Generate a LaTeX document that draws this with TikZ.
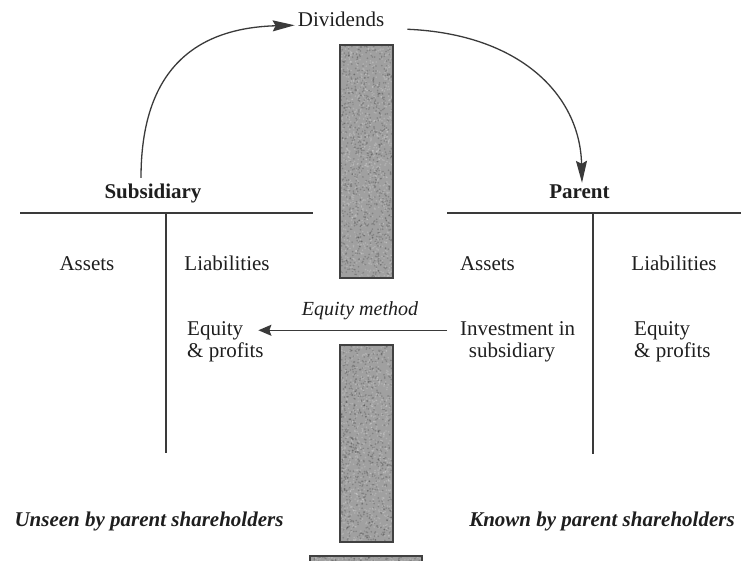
\documentclass[tikz,border=0pt]{standalone}
\usepackage{fontspec}
\setmainfont{Liberation Serif}
\usetikzlibrary{arrows.meta}
\definecolor{ink}{HTML}{1E1E1E}
\definecolor{rulecol}{HTML}{3A3A3A}
\definecolor{barfill}{HTML}{A0A0A0}
\definecolor{baredge}{HTML}{414141}
\begin{document}
\begin{tikzpicture}[x=1pt,y=-1pt,
  lbl/.style={inner sep=0pt, text=ink, font=\fontsize{21}{22}\selectfont,
              text height=14pt, text depth=4.5pt},
  ttl/.style={lbl, font=\fontsize{21}{22}\selectfont\bfseries},
  note/.style={lbl, font=\fontsize{21}{22}\selectfont\bfseries\itshape},
  meth/.style={lbl, font=\fontsize{20}{22}\selectfont\itshape},
  tline/.style={draw=rulecol, line width=1.6pt},
  barbody/.style={fill=barfill},
  baredgeline/.style={draw=baredge, line width=1.8pt},
  flow/.style={draw=rulecol, line width=1.3pt,
               -{Stealth[length=22pt,width=11pt,inset=3pt]}},
  eqarrow/.style={draw=rulecol, line width=1.3pt,
                  -{Stealth[length=13pt,width=11pt,inset=2pt]}}
]
\useasboundingbox (0,0) rectangle (741,560);

% shaded separator bars with a speckled fill
\pgfmathsetseed{11}
\foreach \xa/\ya/\xb/\yb/\n in {340/45/393/278/900, 340/345/393/542/760, 310/556/422/575/200}{
  \begin{scope}
    \clip (\xa,\ya) rectangle (\xb,\yb);
    \fill[barbody] (\xa,\ya) rectangle (\xb,\yb);
    \foreach \k in {1,...,\n}{
      \pgfmathsetmacro{\px}{\xa+(\xb-\xa)*rnd}
      \pgfmathsetmacro{\py}{\ya+(\yb-\ya)*rnd}
      \pgfmathsetmacro{\qx}{\xa+(\xb-\xa)*rnd}
      \pgfmathsetmacro{\qy}{\ya+(\yb-\ya)*rnd}
      \fill[black, opacity=0.18] (\px,\py) circle (0.9pt);
      \fill[white, opacity=0.18] (\qx,\qy) circle (0.9pt);
    }
  \end{scope}
  \draw[baredgeline] (\xa,\ya) rectangle (\xb,\yb);
}

% T-account of the subsidiary
\draw[tline] (20,213) -- (313,213);
\draw[tline] (166,213) -- (166,453);
% T-account of the parent
\draw[tline] (447,213) -- (741,213);
\draw[tline] (593,213) -- (593,454);

% headings
\node[lbl, anchor=base] (div) at (341,26) {Dividends};
\node[ttl, anchor=base] (sub) at (153,198) {Subsidiary};
\node[ttl, anchor=base] (par) at (579.5,198) {Parent};

% subsidiary columns
\node[lbl, anchor=base] (assL) at (87,270) {Assets};
\node[lbl, anchor=base] (liaL) at (227,270) {Liabilities};
\node[lbl, anchor=base west] (eqL) at (187,335) {Equity};
\node[lbl, anchor=base west] (prL) at (187,357) {\& profits};

% parent columns
\node[lbl, anchor=base] (assR) at (487.5,270) {Assets};
\node[lbl, anchor=base] (liaR) at (674,270) {Liabilities};
\node[lbl, anchor=base west] (inv) at (460,335) {Investment in};
\node[lbl, anchor=base] (subsid) at (512,357) {subsidiary};
\node[lbl, anchor=base west] (eqR) at (634,335) {Equity};
\node[lbl, anchor=base west] (prR) at (634,357) {\& profits};

% method label
\node[meth, anchor=base] (meth) at (360,315) {Equity method};

% footers
\node[note, anchor=base] (unseen) at (149,526) {Unseen by parent shareholders};
\node[note, anchor=base] (known) at (602,526) {Known by parent shareholders};

% dividend flow
\draw[flow] ([shift={(-12pt,6pt)}]sub.north)
  .. controls (141,70) and (195,28) .. ([shift={(-3pt,-4pt)}]div.west);
\draw[flow] ([shift={(23pt,-8pt)}]div.east)
  .. controls (520,34) and (580,95) .. ([shift={(2.5pt,1pt)}]par.north);

% equity method link
\draw[eqarrow] ([xshift=-13pt]inv.west) -- ([xshift=15pt]eqL.east);
\end{tikzpicture}
\end{document}
